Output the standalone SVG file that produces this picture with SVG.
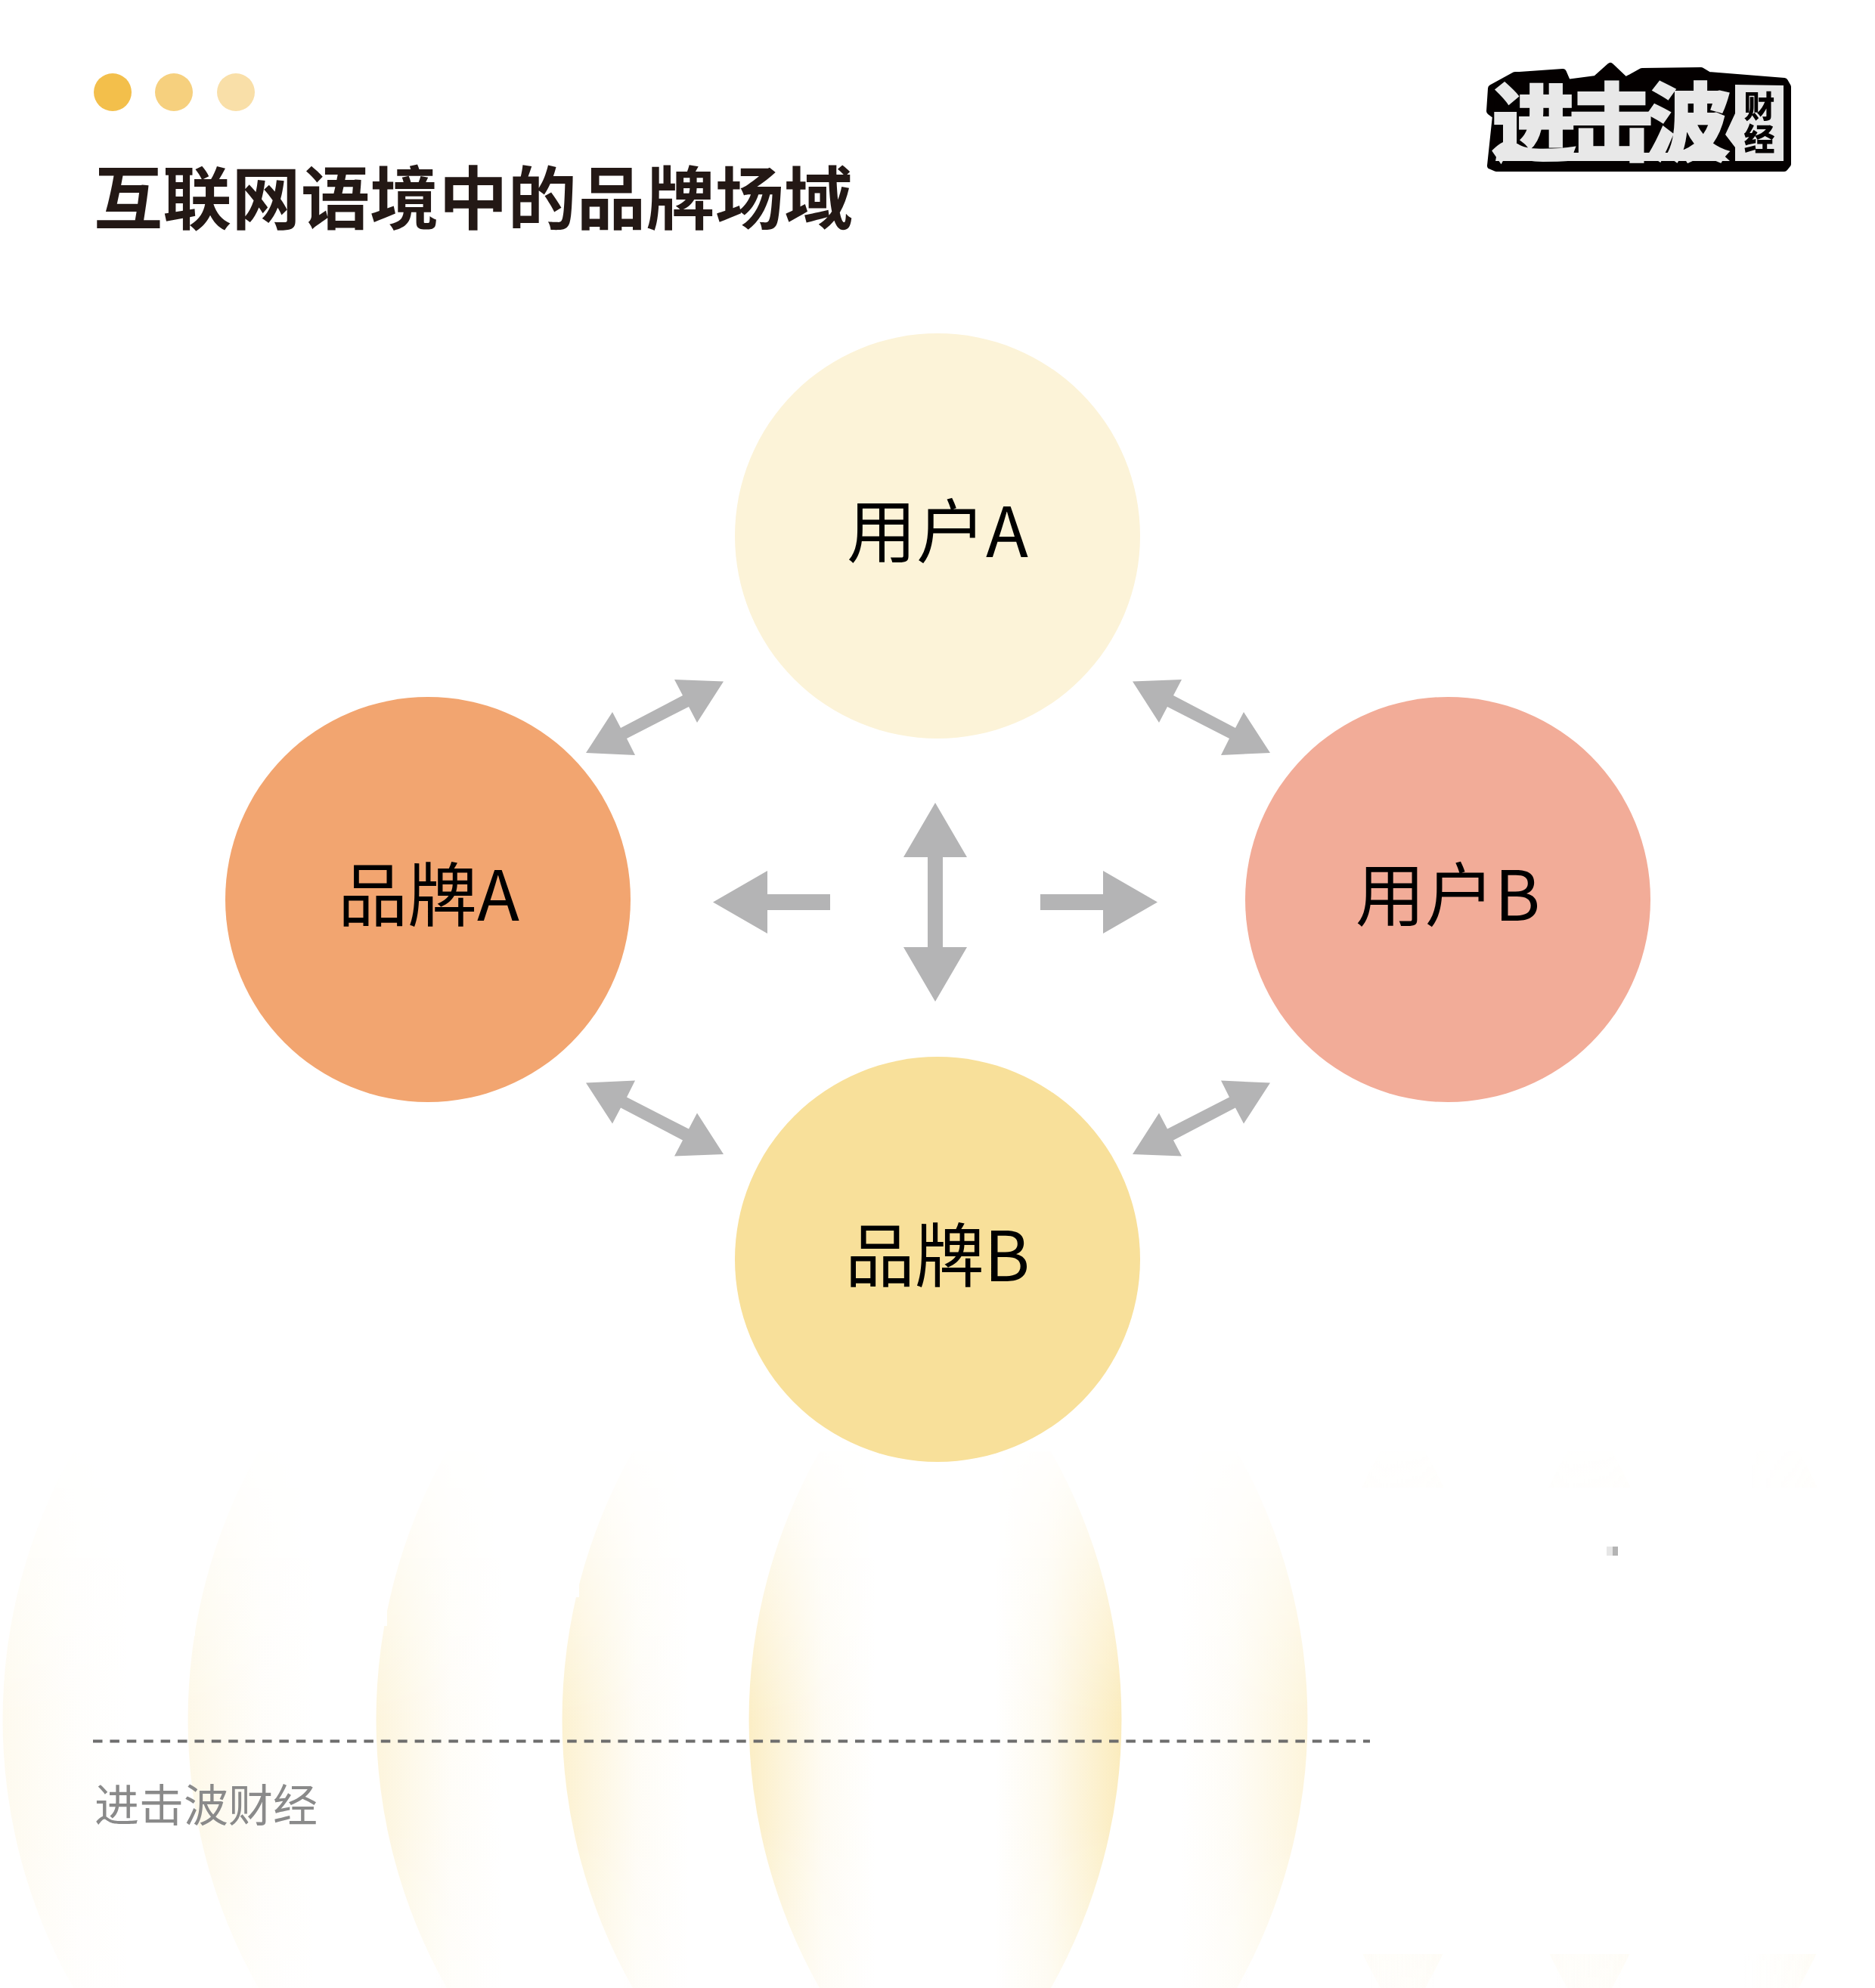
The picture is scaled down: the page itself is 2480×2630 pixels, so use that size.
<svg xmlns="http://www.w3.org/2000/svg" width="2480" height="2630" viewBox="0 0 2480 2630">
<style>
text{font-family:"Noto Sans CJK SC","Noto Sans",sans-serif}
.label{font-size:92px;fill:#000;text-anchor:middle}
.arrow{fill:#b4b4b5}
.w{fill:#fff}
.s{fill:url(#shade)}
</style>
<defs>
<path id="lens" d="M-153,1920A721,721 0 0 0 -153,2630L153,2630A721,721 0 0 0 153,1920Z"/>
<linearGradient id="shade" x1="0" y1="0" x2="1" y2="0">
<stop offset="0" stop-color="#f8dc88" stop-opacity=".48"/>
<stop offset=".08" stop-color="#f8dc88" stop-opacity=".32"/>
<stop offset=".2" stop-color="#f8dc88" stop-opacity=".1"/>
<stop offset=".34" stop-color="#f8dc88" stop-opacity="0"/>
<stop offset=".66" stop-color="#f8dc88" stop-opacity="0"/>
<stop offset=".8" stop-color="#f8dc88" stop-opacity=".14"/>
<stop offset=".92" stop-color="#f8dc88" stop-opacity=".38"/>
<stop offset="1" stop-color="#f8dc88" stop-opacity=".55"/>
</linearGradient>
<linearGradient id="fade" gradientUnits="userSpaceOnUse" x1="0" y1="1920" x2="0" y2="2630">
<stop offset="0" stop-color="#fff" stop-opacity=".12"/>
<stop offset=".25" stop-color="#fff" stop-opacity=".6"/>
<stop offset=".5" stop-color="#fff" stop-opacity="1"/>
<stop offset=".7" stop-color="#fff" stop-opacity="1"/>
<stop offset="1" stop-color="#fff" stop-opacity=".7"/>
</linearGradient>
<mask id="vfade" maskUnits="userSpaceOnUse" x="0" y="1900" width="2480" height="730"><rect x="0" y="1900" width="2480" height="730" fill="url(#fade)"/></mask>
</defs>
<rect width="2480" height="2630" fill="#fff"/>
<g id="background-lenses" mask="url(#vfade)">
<g transform="translate(2226 0)"><use href="#lens" class="s" opacity=".4"/></g>
<g transform="translate(1979 0)"><use href="#lens" class="s" opacity=".4"/></g>
<g transform="translate(1732 0)"><use href="#lens" class="s" opacity=".4"/></g>
<rect x="1480" y="1968" width="1000" height="617" fill="#fff"/>
<g transform="translate(1483 0)"><use href="#lens" class="w"/><use href="#lens" class="s" opacity=".55"/></g>
<g transform="translate(250 0)"><use href="#lens" class="w"/><use href="#lens" class="s" opacity=".28"/></g>
<g transform="translate(495 0)"><use href="#lens" class="w"/><use href="#lens" class="s" opacity=".4"/></g>
<g transform="translate(744 0)"><use href="#lens" class="w"/><use href="#lens" class="s" opacity=".6"/></g>
<g transform="translate(990 0)"><use href="#lens" class="w"/><use href="#lens" class="s" opacity=".8"/></g>
<g transform="translate(1237 0)"><use href="#lens" class="w"/><use href="#lens" class="s"/></g>
</g>
<g id="speck"><rect x="2125" y="2046" width="8" height="12" fill="#e6e6e6"/><rect x="2133" y="2046" width="7" height="12" fill="#b4b4b4"/></g>
<g id="header-dots">
<circle cx="149" cy="122" r="25" fill="#f3bf4b"/>
<circle cx="230" cy="122" r="25" fill="#f6d07e"/>
<circle cx="312" cy="122" r="25" fill="#f9dfa8"/>
</g>
<text id="title" x="124" y="296" font-size="91" font-weight="700" fill="#231815" textLength="1004">互联网语境中的品牌场域</text>
<g id="logo">
<polygon points="1973,117 2004,100 2010,100 2067,96 2073,110 2111,105 2130,88 2150,107 2172,95 2250,94 2260,100 2360,108 2364,115 2364,217 2360,222 1979,222 1972,219 1979,153 1971,147" fill="#040000" stroke="#040000" stroke-width="10" stroke-linejoin="round"/>
<text x="1973" y="204" font-size="112" font-weight="900" fill="#e8e8e8" stroke="#e8e8e8" stroke-width="2" textLength="316">进击波</text>
<polygon points="1978,213 2288,213 2276,202 1980,202" fill="#e8e8e8"/>
<polygon points="2295,112 2359,113 2359,213 2295,213 2295,195 2282,178 2295,150" fill="#e8e8e8"/>
<text x="2327" y="120" font-size="41" font-weight="900" fill="#040000" writing-mode="vertical-rl" letter-spacing="2">财经</text>
</g>
<g id="connectors">
<polygon class="arrow" points="957,901.5 892,899 903,920 821,963 810,942 775,996 840,999 829,977 911,935 922,956"/>
<polygon class="arrow" points="1498,901.5 1563,899 1552,920 1634,963 1645,942 1680,996 1615,999 1626,977 1544,935 1533,956"/>
<polygon class="arrow" points="957,1527 892,1529.5 903,1508.5 821,1465.5 810,1486.5 775,1432.5 840,1429.5 829,1451.5 911,1493.5 922,1472.5"/>
<polygon class="arrow" points="1498,1527 1563,1529.5 1552,1508.5 1634,1465.5 1645,1486.5 1680,1432.5 1615,1429.5 1626,1451.5 1544,1493.5 1533,1472.5"/>
<polygon class="arrow" points="943,1193.5 1015,1152 1015,1183 1098,1183 1098,1204 1015,1204 1015,1235"/>
<polygon class="arrow" points="1531,1193.5 1459,1152 1459,1183 1376,1183 1376,1204 1459,1204 1459,1235"/>
<polygon class="arrow" points="1237,1062 1279,1134 1247,1134 1247,1253 1279,1253 1237,1325 1195,1253 1227,1253 1227,1134 1195,1134"/>
</g>
<g id="node-user-a"><circle cx="1240" cy="709" r="268" fill="#fcf3d8"/><text class="label" x="1240" y="737">用户A</text></g>
<g id="node-brand-a"><circle cx="566" cy="1190" r="268" fill="#f2a570"/><text class="label" x="567" y="1218">品牌A</text></g>
<g id="node-user-b"><circle cx="1915" cy="1190" r="268" fill="#f2ac98"/><text class="label" x="1915" y="1218">用户B</text></g>
<g id="node-brand-b"><circle cx="1240" cy="1666" r="268" fill="#f8e09a"/><text class="label" x="1240" y="1695">品牌B</text></g>
<line id="footer-rule" x1="123" y1="2303.5" x2="1812" y2="2303.5" stroke="#6d6d6d" stroke-width="4" stroke-dasharray="12.5 9.9"/>
<text id="footer" x="125" y="2410" font-size="59" fill="#8a8a8a">进击波财经</text>
</svg>
